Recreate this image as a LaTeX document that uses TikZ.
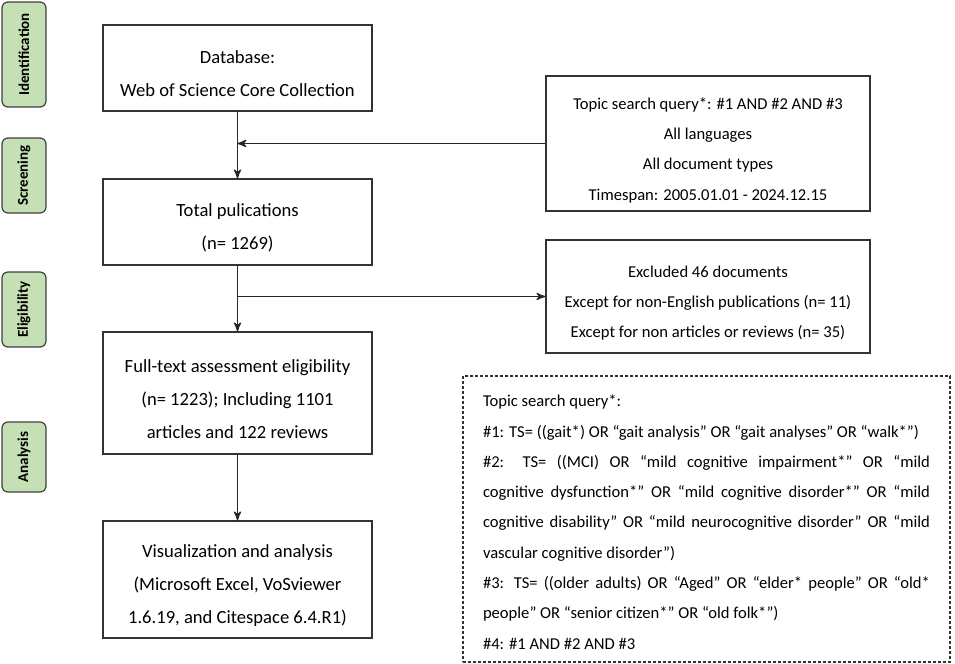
\documentclass[tikz,border=0pt]{standalone}
\usepackage{fontspec}
\setmainfont{Carlito}
\usepackage{tikz}
\usetikzlibrary{
  arrows,
  chains,
  positioning,
  scopes
}
\definecolor{stagegreen}{HTML}{C5E0B4}
\newcommand{\toppad}{\rule{0pt}{12.5pt}}

\begin{document}
\begin{tikzpicture}[
      x=0.5pt, y=-0.5pt,
      stage/.style={
         rectangle,
         rounded corners=3pt,
         line width=0.6pt,
         draw=black!75,
         fill=stagegreen,
         rotate=90,
         inner sep=0pt,
         minimum height=22pt,
         minimum width=#1,
         font=\fontsize{7.5}{9}\selectfont\bfseries
      },
      flowbox/.style={
         rectangle,
         line width=0.7pt,
         draw=black!80,
         minimum width=134.5pt,
         minimum height=#1,
         align=center,
         font=\fontsize{9.3}{16.5}\selectfont
      },
      sidebox/.style={
         rectangle,
         line width=0.7pt,
         draw=black!80,
         minimum width=162pt,
         minimum height=#1,
         align=center,
         font=\fontsize{8.3}{15.15}\selectfont
      },
      querybox/.style={
         rectangle,
         line width=0.6pt,
         draw=black!80,
         dash pattern=on 1.5pt off 1pt,
         minimum width=243.5pt,
         minimum height=143pt,
         text width=223.5pt,
         inner xsep=10pt,
         align=justify,
         font=\fontsize{8.3}{15.15}\selectfont,
         execute at begin node={\rule{0pt}{9pt}}
      },
      >=stealth', line width=0.65pt, draw=black!85,
      tip/.style={->},
    ]
    \useasboundingbox (0,0) rectangle (955,664);

    % stage labels
    \node (sid)  [stage=52.5pt] at (24,54.5)  {Identification};
    \node (sscr) [stage=37.5pt] at (24,175.5) {Screening};
    \node (selg) [stage=37.5pt] at (24,309.5) {Eligibility};
    \node (sana) [stage=35pt]   at (24,457)   {Analysis};

    % main column
    \node (ndb)   [flowbox=43pt]   at (237.5,68)    {\toppad Database:\\Web of Science Core Collection};
    \node (ntot)  [flowbox=43pt]   at (237.5,222)   {\toppad Total pulications\\(n= 1269)};
    \node (nelig) [flowbox=61pt]   at (237.5,393)   {\toppad Full-text assessment eligibility\\(n= 1223); Including 1101\\articles and 122 reviews};
    \node (nanal) [flowbox=58.5pt] at (237.5,579.5) {\toppad Visualization and analysis\\(Microsoft Excel, VoSviewer\\1.6.19, and Citespace 6.4.R1)};

    % side boxes
    \node (ntopic) [sidebox=67.5pt] at (708,143.5) {\toppad Topic search query*: \#1 AND \#2 AND \#3\\All languages\\All document types\\Timespan: 2005.01.01 - 2024.12.15};
    \node (nexcl)  [sidebox=56.5pt] at (708,296.5) {\toppad Excluded 46 documents\\Except for non-English publications (n= 11)\\Except for non articles or reviews (n= 35)};
    \node (nquery) [querybox] at (706.5,519) {Topic search query*:\\
       \#1: TS= ((gait*) OR “gait analysis” OR “gait analyses” OR “walk*”)\\
       \#2: TS= ((MCI) OR “mild cognitive impairment*” OR “mild\linebreak
       cognitive dysfunction*” OR “mild cognitive disorder*” OR “mild\linebreak
       cognitive disability” OR “mild neurocognitive disorder” OR “mild\linebreak
       vascular cognitive disorder”)\\
       \#3: TS= ((older adults) OR “Aged” OR “elder* people” OR “old*\linebreak
       people” OR “senior citizen*” OR “old folk*”)\\
       \#4: \#1 AND \#2 AND \#3};

  { [start chain]
       \chainin (ndb);
       \chainin (ntot)   [join=by tip];
       \chainin (nelig)  [join=by tip];
       \chainin (nanal)  [join=by tip];
  }
  \draw [tip] (ntopic.west) -- (ntopic.west -| ndb.south);
  \draw [tip] (nexcl.west -| ntot.south) -- (nexcl.west);
\end{tikzpicture}
\end{document}
